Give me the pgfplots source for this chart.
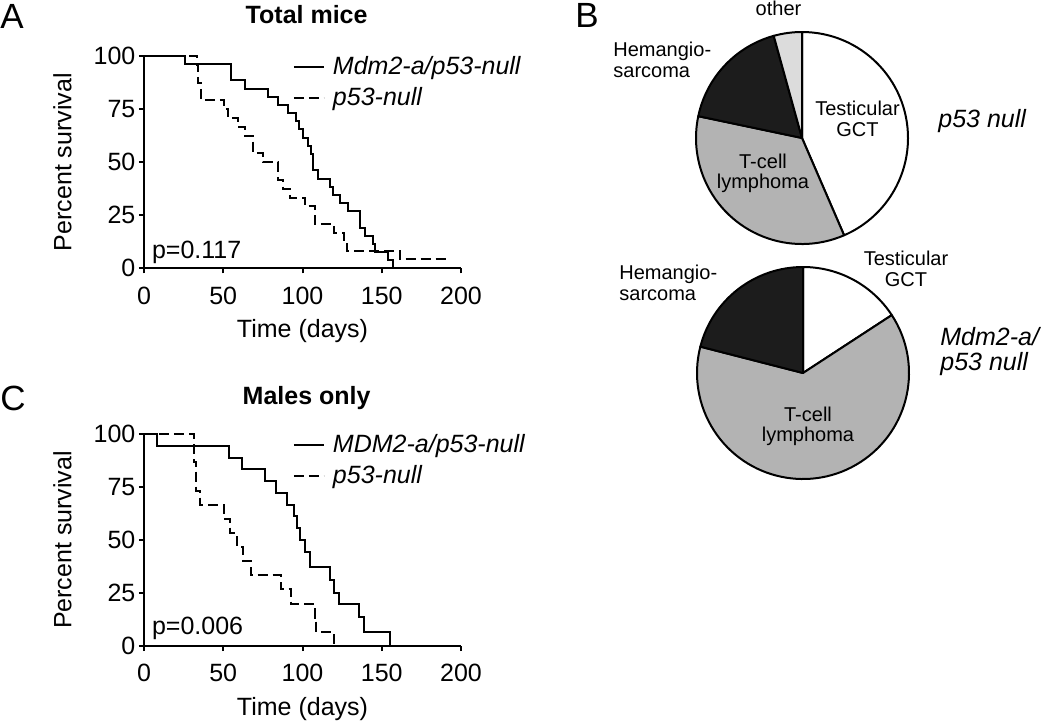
\documentclass[border=0pt]{standalone}
\usepackage{fontspec}
\setmainfont{Liberation Sans}
\usepackage{pgfplots}
\pgfplotsset{compat=1.18}
\usepackage{pgfplotstable}

\definecolor{pieblack}{HTML}{1C1C1C}
\definecolor{piegray}{HTML}{B3B3B3}
\definecolor{pieother}{HTML}{DCDCDC}

\newcommand\axfont{\fontsize{12.5}{14}\selectfont}
\newcommand\piefont{\fontsize{10}{12}\selectfont}

% Panel A: total mice
\pgfplotstableread{
day surv
0 100
25.9 96.2
55.2 88.5
63.6 84.6
78.3 80.8
84.6 76.9
90.6 73.1
95.7 69.2
98 65.4
100.1 61.5
103.3 57.7
105.4 53.8
106.8 46.2
110 42.3
117.3 38.5
119.5 34.6
123.7 30.8
128.5 26.9
136.3 19.2
139.4 15.4
144.3 11.5
145.7 7.7
154.2 3.8
157.3 0
}\tabAmdm
\pgfplotstableread{
day surv
0 100
33.2 95.8
34.2 87.5
36 79.2
50.4 75
53 70.8
59.4 66.7
63.7 62.5
69 54.2
75.2 50
84.6 41.7
88 37.5
92 33.3
101.4 29.2
107.8 20.8
120 16.7
126 12.5
128 8.3
161.5 4.2
191 4.2
}\tabAnull
% Panel C: males only
\pgfplotstableread{
day surv
0 100
8 94.4
53.8 88.9
62 83.3
76.5 77.8
83 72.2
90 66.7
94.5 61.1
96.6 55.6
98.7 50
101.4 44.4
104.6 37.5
117.2 31.2
119.8 25
123.1 19.6
135.7 13.6
138.6 6.8
155.2 0
}\tabCmdm
\pgfplotstableread{
day surv
0 100
31.5 86.7
33 73.3
35.5 66.7
50.2 60
54.5 53.3
58.6 46.7
62.6 40
67.5 33.3
86.3 26.7
93 20
107.7 13.3
108.8 6.7
119.8 0
}\tabCnull

\pgfplotsset{
 km/.style={
  scale only axis, width=158.5pt, height=106.15pt, anchor=south west,
  xmin=0, xmax=200, ymin=0, ymax=100,
  axis x line*=bottom, axis y line*=left,
  axis line style={line width=1pt,-},
  xtick={0,50,100,150,200}, ytick={0,25,50,75,100},
  tick align=outside, major tick length=2.5pt,
  tick style={line width=1pt,black},
  /pgf/number format/assume math mode=true,
  tick label style={font=\axfont},
  xticklabel style={yshift=-3.2pt},
  yticklabel style={inner sep=1.6pt},
  xlabel={Time (days)}, ylabel={Percent survival},
  label style={font=\axfont},
  xlabel style={at={(axis description cs:0.5,-0.328)}, anchor=base, inner sep=0pt},
  ylabel style={at={(axis description cs:-0.227,0.5)}, anchor=south, inner sep=0pt},
  title style={anchor=base, font=\axfont\bfseries, inner sep=0pt},
  clip=false,
  legend style={at={(axis description cs:0.47,1.0)}, anchor=north west,
    draw=none, fill=none, inner sep=0pt, outer sep=0pt,
    font=\fontsize{12.5}{15}\selectfont\itshape,
    nodes={inner sep=0pt}, row sep=5pt, column sep=4pt},
  legend cell align=left,
  legend image code/.code={\draw[#1] (0pt,0pt) -- (15pt,0pt);},
 },
 mdm/.style={const plot, black, line width=1pt, mark=none},
 nul/.style={const plot, black, line width=1pt, mark=none, dash pattern=on 5pt off 2.5pt},
 pie/.style={scale only axis, width=106pt, height=106pt, anchor=center,
  xmin=-1, xmax=1, ymin=-1, ymax=1, hide axis, clip=false},
}

% slice: start percent, end percent, colour (clockwise from 12 o'clock)
\newcommand\slice[3]{\draw[fill=#3, line width=1pt, line join=round]
  (axis cs:0,0) -- ++({90-3.6*#1}:53pt)
  arc[start angle={90-3.6*#1}, end angle={90-3.6*#2}, radius=53pt] -- cycle;}

\begin{document}
\begin{tikzpicture}
\useasboundingbox (0,0) rectangle (525pt,-362pt);

% ---------- Panel A ----------
\node[anchor=base west, inner sep=0pt, font=\fontsize{17.5}{20}\selectfont] at (0pt,-14.15pt) {A};
\begin{axis}[km, at={(72pt,-134.15pt)},
  title={Total mice}, title style={at={(axis description cs:0.513,1.098)}}]
\addplot[mdm] table[x=day,y=surv] {\tabAmdm};
\addlegendentry{Mdm2-a/p53-null}
\addplot[nul] table[x=day,y=surv] {\tabAnull};
\addlegendentry{p53-null}
\node[anchor=base west, inner sep=0pt, font=\axfont] at (axis description cs:0.024,0.047) {p=0.117};
\end{axis}

% ---------- Panel C ----------
\node[anchor=base west, inner sep=0pt, font=\fontsize{17.5}{20}\selectfont] at (0pt,-205pt) {C};
\begin{axis}[km, at={(72pt,-323pt)}, height=106pt,
  title={Males only}, title style={at={(axis description cs:0.513,1.082)}}]
\addplot[mdm] table[x=day,y=surv] {\tabCmdm};
\addlegendentry{MDM2-a/p53-null}
\addplot[nul] table[x=day,y=surv] {\tabCnull};
\addlegendentry{p53-null}
\node[anchor=base west, inner sep=0pt, font=\axfont] at (axis description cs:0.024,0.052) {p=0.006};
\end{axis}

% ---------- Panel B ----------
\node[anchor=base west, inner sep=0pt, font=\fontsize{17.5}{20}\selectfont] at (287.5pt,-13.5pt) {B};

% p53 null pie: Testicular GCT 43.5, T-cell lymphoma 34.8, Hemangiosarcoma 17.4, other 4.3
\begin{axis}[pie, at={(401pt,-69pt)}]
\slice{0}{43.5}{white}
\slice{43.5}{78.3}{piegray}
\slice{78.3}{95.7}{pieblack}
\slice{95.7}{100}{pieother}
\end{axis}
% Mdm2-a/p53 null pie: Testicular GCT 15.8, T-cell lymphoma 63.2, Hemangiosarcoma 21.0
\begin{axis}[pie, at={(401.5pt,-186.5pt)}]
\slice{0}{15.8}{white}
\slice{15.8}{79.0}{piegray}
\slice{79.0}{100}{pieblack}
\end{axis}

\begin{scope}[every node/.style={inner sep=0pt, font=\piefont}]
\node[anchor=base] at (389.25pt,-7.5pt) {other};
\node[anchor=base west] at (306.5pt,-28pt) {Hemangio-};
\node[anchor=base west] at (306.5pt,-38.5pt) {sarcoma};
\node[anchor=base] at (428.75pt,-57.5pt) {Testicular};
\node[anchor=base] at (428.75pt,-68pt) {GCT};
\node[anchor=base] at (381.5pt,-84pt) {T-cell};
\node[anchor=base] at (381.5pt,-94pt) {lymphoma};

\node[anchor=base] at (453pt,-132.5pt) {Testicular};
\node[anchor=base] at (453pt,-143pt) {GCT};
\node[anchor=base west] at (309.5pt,-139.5pt) {Hemangio-};
\node[anchor=base west] at (309.5pt,-150pt) {sarcoma};
\node[anchor=base] at (404pt,-210.85pt) {T-cell};
\node[anchor=base] at (404pt,-220.85pt) {lymphoma};
\end{scope}
\begin{scope}[every node/.style={inner sep=0pt, font=\fontsize{12.5}{15}\selectfont\itshape}]
\node[anchor=base west] at (469pt,-63.5pt) {p53 null};
\node[anchor=base west] at (470pt,-172.5pt) {Mdm2-a/};
\node[anchor=base west] at (470pt,-185pt) {p53 null};
\end{scope}
\end{tikzpicture}
\end{document}
